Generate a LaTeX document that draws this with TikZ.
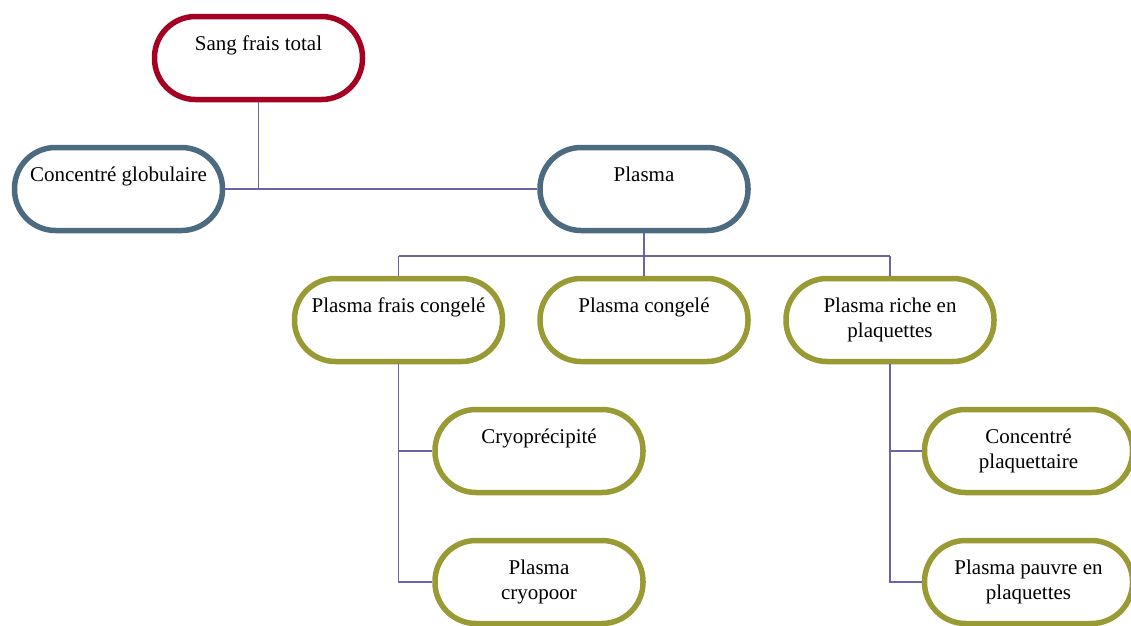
\documentclass[tikz,border=0pt]{standalone}
\usepackage{fontspec}
\setmainfont{Liberation Serif}
\definecolor{crimson}{RGB}{165,0,33}
\definecolor{slate}{RGB}{76,106,128}
\definecolor{olive}{RGB}{154,154,52}
\definecolor{linkc}{RGB}{106,101,163}
\tikzset{
  cell/.style={draw=#1, line width=5.5pt, rounded corners=41pt, fill=white,
    minimum width=208pt, minimum height=83pt, inner sep=0pt},
  txt/.style={anchor=north, align=center, inner sep=3pt, yshift=-19pt,
    font=\fontsize{21}{25}\selectfont},
  link/.style={draw=linkc, line width=1.6pt}
}
\begin{document}
\begin{tikzpicture}[x=1pt, y=-1pt]
        \useasboundingbox (0,0) rectangle (1131,625);

        % cells
        \node[cell=crimson, label={[txt]north:Sang frais total}] (sft) at (258.5,58) {};
        \node[cell=slate, label={[txt]north:Concentré globulaire}] (cg) at (118.5,189) {};
        \node[cell=slate, label={[txt]north:Plasma}] (pl) at (644,189) {};
        \node[cell=olive, label={[txt]north:Plasma frais congelé}] (pfc) at (398.5,320) {};
        \node[cell=olive, label={[txt]north:Plasma congelé}] (pc) at (644,320) {};
        \node[cell=olive, label={[txt]north:Plasma riche en\\plaquettes}] (prp) at (890,320) {};
        \node[cell=olive, label={[txt]north:Cryoprécipité}] (cryo) at (539,451) {};
        \node[cell=olive, label={[txt]north:Plasma\\cryopoor}] (cpoor) at (539,582) {};
        \node[cell=olive, label={[txt]north:Concentré\\plaquettaire}] (cpl) at (1028.5,451) {};
        \node[cell=olive, label={[txt]north:Plasma pauvre en\\plaquettes}] (ppp) at (1028.5,582) {};

        % connectors
        \coordinate (top) at (sft.south |- cg.east);
        \coordinate (bus) at (644,256);
        \draw[link] (sft.south) -- (top);
        \draw[link] (cg.east) -- (pl.west);
        \draw[link] (pl.south) -- (bus);
        \draw[link] (pfc.north |- bus) -- (prp.north |- bus);
        \draw[link] (pfc.north |- bus) -- (pfc.north);
        \draw[link] (bus) -- (pc.north);
        \draw[link] (prp.north |- bus) -- (prp.north);
        \draw[link] (pfc.south) -- (pfc.south |- cpoor.west) -- (cpoor.west);
        \draw[link] (pfc.south |- cryo.west) -- (cryo.west);
        \draw[link] (prp.south) -- (prp.south |- ppp.west) -- (ppp.west);
        \draw[link] (prp.south |- cpl.west) -- (cpl.west);
\end{tikzpicture}
\end{document}
